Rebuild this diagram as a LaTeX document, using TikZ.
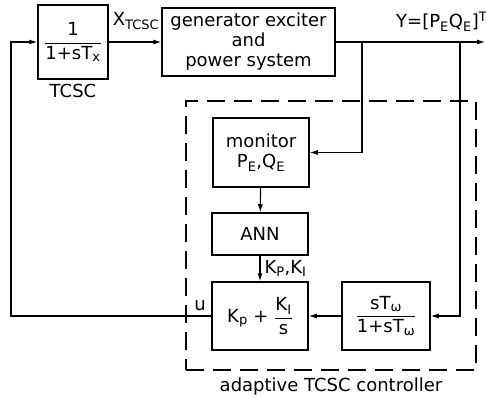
\documentclass[tikz,border=0pt]{standalone}
\usepackage{amsmath}
\usepackage{fontspec}
\setmainfont{DejaVu Sans}
\usetikzlibrary{arrows.meta,positioning}
\DeclareMathSizes{18}{18}{13}{10}
\tikzset{
  blk/.style={draw, line width=1.5pt, align=center, inner sep=2pt,
              minimum width=#1},
  blk/.default=96pt,
  lbl/.style={inner sep=1pt},
  arr/.style={-{Latex[length=8pt,width=5pt]}, line width=1.1pt},
  dashbox/.style={draw, line width=1.1pt, dash pattern=on 18pt off 9pt},
}
\newcommand{\tx}[1]{\text{#1}}

\begin{document}
\begin{tikzpicture}[x=1pt, y=-1pt, font=\fontsize{18}{20}\selectfont]
\useasboundingbox (0,0) rectangle (486,398);
\node[blk=70pt, minimum height=74pt] (tcsc) at (73,42) {$\dfrac{\tx{1}}{\tx{1+sT}_{\tx{x}}}$};
\node[lbl, below=3pt of tcsc] (tcscl) {TCSC};
\node[blk=173pt, minimum height=68pt] (gen) at (248.5,42) {generator exciter\\and\\power system};
\draw[arr] (tcsc) -- node[lbl, above, yshift=11pt, xshift=1pt] (xt) {X$_{\tx{TCSC}}$} (gen);
\coordinate (yend) at (485,42);
\coordinate (b1) at (362,42);
\coordinate (b2) at (460,42);
\draw[arr] (gen.east) -- node[lbl, pos=0.71, above, yshift=9pt] (yl) {Y=[P$_{\tx{E}}$Q$_{\tx{E}}$]$^{\tx{T}}$} (yend);
% adaptive controller
\node[dashbox, minimum width=290pt, minimum height=269pt] (ctrl) at (331,235.5) {};
\node[lbl, below=6pt of ctrl] (ctrll) {adaptive TCSC controller};
\node[blk, minimum height=69pt] (mon) at (261,152.5) {monitor\\P$_{\tx{E}}$,Q$_{\tx{E}}$};
\node[blk, minimum height=42pt] (ann) at (260,234) {ANN};
\node[blk, minimum height=68pt] (pi) at (260,316) {$\tx{K}_{\tx{p}}\tx{ + }\dfrac{\tx{K}_{\tx{I}}}{\tx{s}}$};
\node[blk=88pt, minimum height=68pt] (wash) at (386,316) {$\dfrac{\tx{sT}_{\tx{ω}}}{\tx{1+sT}_{\tx{ω}}}$};
\draw[arr] (b1) |- (mon.east);
\draw[arr] (b2) |- (wash.east);
\draw[arr] (mon) -- (ann);
\draw[arr] (ann) -- node[lbl, right, xshift=3pt] (kl) {K$_{\tx{P}}$,K$_{\tx{I}}$} (pi);
\draw[arr] (wash) -- (pi);
\coordinate (fb) at (11,42);
\draw[arr] (pi.west) node[lbl, above left, xshift=-4pt, yshift=4pt] (ul) {u} -| (fb) -- (tcsc.west);
\end{tikzpicture}
\end{document}
